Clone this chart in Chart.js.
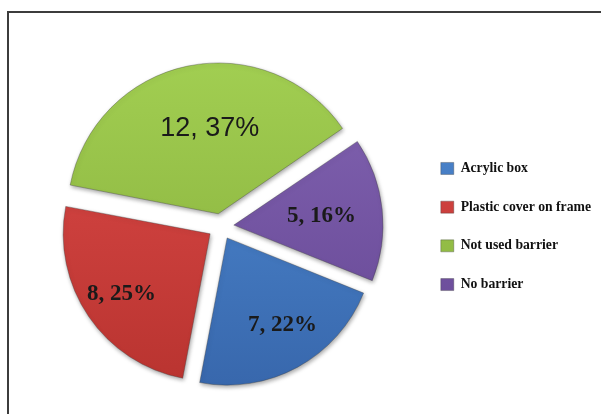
<!DOCTYPE html>
<html>
<head>
<meta charset="utf-8">
<script src="https://cdn.jsdelivr.net/npm/chart.js@4.4.1/dist/chart.umd.min.js"></script>
<style>
    body { margin: 0; background: #fff; overflow: hidden; }
    #wrap { position: relative; width: 601px; height: 414px; }
    #frame {
        position: absolute; left: 7px; top: 11px; width: 700px; height: 500px;
        border: 2px solid #3c3c3c; box-sizing: border-box;
    }
    #pie { position: absolute; left: 0; top: 0; }
</style>
</head>
<body>
<div id="wrap">
    <div id="frame"></div>
    <canvas id="pie" width="601" height="414"></canvas>
</div>
<script>
const categories = ['Acrylic box', 'Plastic cover on frame', 'Not used barrier', 'No barrier'];
const counts = [7, 8, 12, 5];
const percents = [22, 25, 37, 16];

// light / dark ends of each slice's fill
const lightColors = ['#4f8bd3', '#dc4a48', '#a2cf52', '#8264b2'];
const darkColors = ['#3766ab', '#b8332f', '#86ad3b', '#654693'];

const sliceFill = (context) => {
    let i = context.dataIndex;
    let chart = context.chart;
    let area = chart.chartArea;
    if (!area) return lightColors[i];
    let cy = (area.top + area.bottom) / 2;
    let g = chart.ctx.createLinearGradient(0, cy - 160, 0, cy + 160);
    g.addColorStop(0, lightColors[i]);
    g.addColorStop(1, darkColors[i]);
    return g;
}

// shadow under the slices
const shadowPlugin = {
    id: 'sliceShadow',
    beforeDatasetsDraw(chart) {
        let c = chart.ctx;
        c.save();
        c.shadowColor = 'rgba(0,0,0,0.35)';
        c.shadowBlur = 4;
        c.shadowOffsetX = 1;
        c.shadowOffsetY = 2;
    },
    afterDatasetsDraw(chart) {
        chart.ctx.restore();
    }
}

// "count, percent%" labels inside slices
const sliceLabels = {
    id: 'sliceLabels',
    afterDraw(chart, args, opts) {
        let c = chart.ctx;
        let meta = chart.getDatasetMeta(0);
        meta.data.forEach((arc, i) => {
            let p = arc.getProps(['x', 'y', 'startAngle', 'endAngle', 'outerRadius']);
            let mid = (p.startAngle + p.endAngle) / 2;
            // the arc element moves a slice by offset / 4
            let off = arc.options.offset / 4;
            let ox = p.x + Math.cos(mid) * off;
            let oy = p.y + Math.sin(mid) * off;
            let a = mid + opts.turn[i] * Math.PI / 180;
            let d = p.outerRadius * opts.dist[i];
            c.save();
            c.font = opts.fonts[i];
            c.fillStyle = '#1a1a1a';
            c.textAlign = 'center';
            c.textBaseline = 'middle';
            c.fillText(counts[i] + ', ' + percents[i] + '%', ox + Math.cos(a) * d, oy + Math.sin(a) * d);
            c.restore();
        });
    }
}

const pieChart = new Chart(document.getElementById('pie'), {
    type: 'pie',
    data: {
        labels: categories,
        datasets: [{
            data: counts,
            backgroundColor: sliceFill,
            borderColor: 'rgba(60,60,60,0.35)',
            borderWidth: 1,
            offset: 52,
        }]
    },
    options: {
        responsive: false,
        animation: false,
        devicePixelRatio: 1,
        rotation: 112,
        radius: 147,
        layout: {
            padding: { left: 26, top: 39, right: 0, bottom: 0 }
        },
        plugins: {
            legend: {
                position: 'right',
                labels: {
                    boxWidth: 13,
                    boxHeight: 12,
                    padding: 25,
                    color: '#111',
                    font: { family: 'Liberation Serif', weight: 'bold', size: 13.7 }
                }
            },
            tooltip: { enabled: false },
            sliceLabels: {
                dist: [0.7, 0.73, 0.58, 0.6],
                turn: [-4, 0, 6, 0],
                fonts: [
                    'bold 23px "Liberation Serif"',
                    'bold 23px "Liberation Serif"',
                    '27px "Liberation Sans"',
                    'bold 23px "Liberation Serif"'
                ]
            }
        }
    },
    plugins: [shadowPlugin, sliceLabels]
});
</script>
</body>
</html>
